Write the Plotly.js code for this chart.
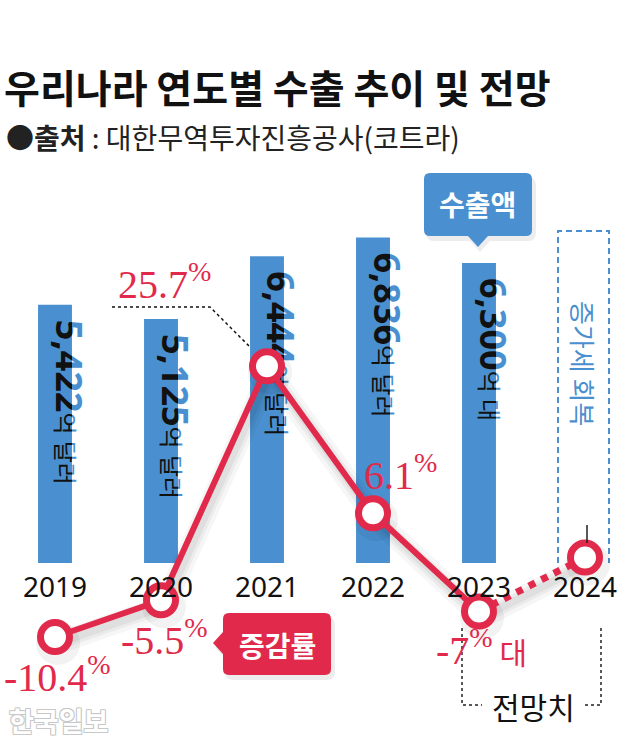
<!DOCTYPE html>
<html><head><meta charset="utf-8">
<script src="https://cdn.plot.ly/plotly-3.0.1.min.js"></script>
<style>html,body{margin:0;padding:0;background:#fff}#chart{width:640px;height:745px}</style>
</head><body><div id="chart"></div>
<script>
// ---------- data ----------
const years = ['2019', '2020', '2021', '2022', '2023', '2024'];
const exportYears = ['2019', '2020', '2021', '2022', '2023'];
const exportValues = [5422, 5125, 6444, 6836, 6300];          // 억 달러
const exportNumberLabels = ['5,422', '5,125', '6,444', '6,836', '6,300'];
const exportUnitLabels = ['억 달러', '억 달러', '억 달러', '억 달러', '억 대'];
const growthYears = ['2019', '2020', '2021', '2022', '2023', '2024'];
const growthRates = [-10.4, -5.5, 25.7, 6.1, -7, 0.2];          // %
const growthLabels = ['-10.4', '-5.5', '25.7', '6.1', '-7'];
const growthSuffix = ['', '', '', '', ' 대'];

// ---------- style / geometry ----------
const BLUE = '#4a90d0', RED = '#e12a4b';
const W = 640, H = 745, ML = 2, MR = 2, MT = 170, MB = 45;
const PW = W - ML - MR, PH = H - MT - MB;
const fx = p => (p - ML) / PW;
const fy = p => (H - MB - p) / PH;
const BW = 0.32;                 // bar width (category units)
const CAT_PX = PW / 6;           // px per category
const TEXT_SHIFT = 14;           // label shifted right of bar centre (px)
const barRange = [-2877, 8253];
const TEXT_DROP = 252;           // label starts lower than bar top
const textRange = [barRange[0] + TEXT_DROP, barRange[1] + TEXT_DROP];
const lineRange = [-18.8, 51.87];
const LINE_UNITS_PER_PX = (lineRange[1] - lineRange[0]) / PH;
const SHADOW_DX = 3, SHADOW_DY = 6;   // shadow offset in px
const shadowXRange = [-0.5 - SHADOW_DX / CAT_PX, 5.5 - SHADOW_DX / CAT_PX];
const shadowYRange = [lineRange[0] + SHADOW_DY * LINE_UNITS_PER_PX, lineRange[1] + SHADOW_DY * LINE_UNITS_PER_PX];
const SANS = 'Noto Sans, Noto Sans CJK KR, sans-serif';
const KR = 'Noto Sans CJK KR, Noto Sans, sans-serif';
const SERIF = 'Liberation Serif, DejaVu Serif, serif';

const barTexts = exportNumberLabels.map((n, i) =>
  '<b>' + n + '</b><span style="font-size:24px">' + exportUnitLabels[i] + '</span>');

const traces = [];
// visible bars
traces.push({
  type: 'bar', x: exportYears, y: exportValues, width: BW,
  marker: {color: BLUE}, xaxis: 'x', yaxis: 'y', hoverinfo: 'skip', showlegend: false
});
// blue (unclipped) labels
traces.push({
  type: 'bar', x: exportYears, y: exportValues, width: BW,
  offset: -BW / 2 + TEXT_SHIFT / CAT_PX,
  marker: {color: 'rgba(0,0,0,0)'}, text: barTexts, textposition: 'inside',
  insidetextanchor: 'end', textangle: 90, constraintext: 'none', cliponaxis: false,
  insidetextfont: {family: SANS, size: 36, color: BLUE},
  xaxis: 'x', yaxis: 'y2', hoverinfo: 'skip', showlegend: false
});
// black labels clipped to each bar
const layoutExtra = {};
exportYears.forEach((yr, i) => {
  const n = 3 + i;
  const barPx = BW * CAT_PX;
  traces.push({
    type: 'bar', x: [yr], y: [exportValues[i]], width: 1,
    offset: -0.5 + TEXT_SHIFT / barPx,
    marker: {color: 'rgba(0,0,0,0)'}, text: [barTexts[i]], textposition: 'inside',
    insidetextanchor: 'end', textangle: 90, constraintext: 'none', cliponaxis: true,
    insidetextfont: {family: SANS, size: 36, color: '#111'},
    xaxis: 'x' + n, yaxis: 'y' + n, hoverinfo: 'skip', showlegend: false
  });
  layoutExtra['xaxis' + n] = {
    domain: [(i + 0.5 - BW / 2) / 6, (i + 0.5 + BW / 2) / 6], type: 'category',
    range: [-0.5, 0.5], visible: false, anchor: 'y' + n, fixedrange: true
  };
  layoutExtra['yaxis' + n] = {
    domain: [0, 1], range: textRange, visible: false, anchor: 'x' + n, fixedrange: true
  };
});
// soft shadow of the growth line (same data, offset axes)
[[22, 0.035], [14, 0.045], [8, 0.05]].forEach(([w, a]) => {
  traces.push({
    type: 'scatter', mode: 'lines', x: growthYears, y: growthRates,
    line: {color: 'rgba(0,0,0,' + a + ')', width: w}, xaxis: 'x8', yaxis: 'y8',
    hoverinfo: 'skip', showlegend: false, cliponaxis: false
  });
});
traces.push({
  type: 'scatter', mode: 'markers', x: growthYears, y: growthRates,
  marker: {size: 44, color: 'rgba(0,0,0,0.05)'}, xaxis: 'x8', yaxis: 'y8',
  hoverinfo: 'skip', showlegend: false, cliponaxis: false
});
// growth line
traces.push({
  type: 'scatter', mode: 'lines', x: growthYears.slice(0, 5), y: growthRates.slice(0, 5),
  line: {color: RED, width: 6}, xaxis: 'x9', yaxis: 'y9', hoverinfo: 'skip', showlegend: false
});
traces.push({
  type: 'scatter', mode: 'lines', x: growthYears.slice(4), y: growthRates.slice(4),
  line: {color: RED, width: 7, dash: 'dot'}, xaxis: 'x9', yaxis: 'y9', hoverinfo: 'skip', showlegend: false
});
traces.push({
  type: 'scatter', mode: 'markers', x: growthYears, y: growthRates,
  marker: {size: 29, color: '#fff', line: {color: RED, width: 7}},
  xaxis: 'x9', yaxis: 'y9', hoverinfo: 'skip', showlegend: false, cliponaxis: false
});

// ---------- annotations ----------
const labelShift = [[2, -37], [3, -37], [-103, 85], [27, 41], [2, -36]];
const annotations = growthLabels.map((t, i) => ({
  x: i, y: growthRates[i], xref: 'x9', yref: 'y9', showarrow: false,
  xshift: labelShift[i][0], yshift: labelShift[i][1],
  text: t + '<sup>%</sup>' + (growthSuffix[i] ? '<span style="font-family:Noto Sans CJK KR;font-size:30px">' + growthSuffix[i] + '</span>' : ''),
  font: {family: SERIF, size: 40, color: RED}, xanchor: 'center', yanchor: 'middle'
}));
function note(px, py, text, font, extra) {
  return Object.assign({xref: 'paper', yref: 'paper', x: fx(px), y: fy(py), showarrow: false,
    xanchor: 'center', yanchor: 'middle', text: text, font: font}, extra || {});
}
annotations.push(note(4, 137, '<b>●출처</b> : 대한무역투자진흥공사(코트라)',
  {family: KR, size: 28, color: '#222'}, {xanchor: 'left'}));
annotations.push(note(478, 204, '<b>수출액</b>', {family: KR, size: 28, color: '#fff'}));
annotations.push(note(277, 645, '<b>증감률</b>', {family: KR, size: 28, color: '#fff'}));
annotations.push(note(584, 363, '증가세 회복', {family: KR, size: 26, color: BLUE}, {textangle: 90}));
annotations.push(note(533, 706, '전망치', {family: KR, size: 30, color: '#111'}));
annotations.push(note(59, 720, '<b>한국일보</b>', {family: KR, size: 27, color: '#fff',
  shadow: '1px 1px 0 #c8c8c8, -1px -1px 0 #c8c8c8, 1px -1px 0 #c8c8c8, -1px 1px 0 #c8c8c8'}));

// ---------- shapes ----------
const P = (x, y) => fx(x).toFixed(5) + ',' + fy(y).toFixed(5);
function calloutDown(x0, y0, x1, y1, r, tx, tw, th) {
  return 'M' + P(x0 + r, y0) + ' L' + P(x1 - r, y0) + ' Q' + P(x1, y0) + ' ' + P(x1, y0 + r) +
    ' L' + P(x1, y1 - r) + ' Q' + P(x1, y1) + ' ' + P(x1 - r, y1) +
    ' L' + P(tx + tw, y1) + ' L' + P(tx, y1 + th) + ' L' + P(tx - tw, y1) +
    ' L' + P(x0 + r, y1) + ' Q' + P(x0, y1) + ' ' + P(x0, y1 - r) +
    ' L' + P(x0, y0 + r) + ' Q' + P(x0, y0) + ' ' + P(x0 + r, y0) + ' Z';
}
function calloutLeft(x0, y0, x1, y1, r, ty, tw, th) {
  return 'M' + P(x0 + r, y0) + ' L' + P(x1 - r, y0) + ' Q' + P(x1, y0) + ' ' + P(x1, y0 + r) +
    ' L' + P(x1, y1 - r) + ' Q' + P(x1, y1) + ' ' + P(x1 - r, y1) +
    ' L' + P(x0 + r, y1) + ' Q' + P(x0, y1) + ' ' + P(x0, y1 - r) +
    ' L' + P(x0, ty + tw) + ' L' + P(x0 - th, ty) + ' L' + P(x0, ty - tw) +
    ' L' + P(x0, y0 + r) + ' Q' + P(x0, y0) + ' ' + P(x0 + r, y0) + ' Z';
}
const shapes = [
  {type: 'path', xref: 'paper', yref: 'paper', layer: 'below',
   path: 'M' + P(558, 563) + ' L' + P(558, 231) + ' L' + P(609, 231) + ' L' + P(609, 563),
   line: {color: BLUE, width: 2, dash: '6px,4px'}},
  // callout shadows
  {type: 'path', xref: 'paper', yref: 'paper', path: calloutDown(426, 177, 536, 241, 8, 480, 10, 11),
   fillcolor: 'rgba(0,0,0,0.07)', line: {width: 0}},
  {type: 'path', xref: 'paper', yref: 'paper', path: calloutLeft(225, 617, 335, 680, 8, 647, 11, 10),
   fillcolor: 'rgba(0,0,0,0.07)', line: {width: 0}},
  {type: 'path', xref: 'paper', yref: 'paper', path: calloutDown(424, 173, 532, 236, 6, 478, 10, 11),
   fillcolor: BLUE, line: {width: 0}},
  {type: 'path', xref: 'paper', yref: 'paper', path: calloutLeft(223, 613, 331, 675, 6, 643, 11, 10),
   fillcolor: RED, line: {width: 0}},
  {type: 'path', xref: 'paper', yref: 'paper', path: 'M' + P(112, 307) + ' L' + P(210, 307) + ' L' + P(250, 347),
   line: {color: '#111', width: 1.5, dash: 'dot'}},
  {type: 'path', xref: 'paper', yref: 'paper', path: 'M' + P(462, 628) + ' L' + P(462, 705) + ' L' + P(482, 705),
   line: {color: '#222', width: 1.5, dash: 'dot'}},
  {type: 'path', xref: 'paper', yref: 'paper', path: 'M' + P(601, 628) + ' L' + P(601, 705) + ' L' + P(585, 705),
   line: {color: '#222', width: 1.5, dash: 'dot'}},
  {type: 'line', xref: 'paper', yref: 'paper', x0: fx(587), x1: fx(587), y0: fy(525), y1: fy(543),
   line: {color: '#222', width: 1.5}}
];

const layout = Object.assign({
  width: W, height: H,
  margin: {l: ML, r: MR, t: MT, b: MB, pad: 0},
  paper_bgcolor: '#fff', plot_bgcolor: 'rgba(0,0,0,0)',
  showlegend: false, barmode: 'overlay',
  title: {text: '<b>우리나라 연도별 수출 추이 및 전망</b>', xref: 'container', yref: 'container',
          x: 4 / W, xanchor: 'left', y: 1 - 89 / H, yanchor: 'middle',
          font: {family: KR, size: 39, color: '#111'}},
  xaxis: {domain: [0, 1], type: 'category', range: [-0.5, 5.5], visible: false, anchor: 'y', fixedrange: true},
  yaxis: {domain: [0, 1], range: barRange, visible: false, anchor: 'x', fixedrange: true},
  yaxis2: {overlaying: 'y', range: textRange, visible: false, anchor: 'x', fixedrange: true},
  xaxis8: {domain: [0, 1], type: 'category', range: shadowXRange, visible: false, anchor: 'y8', fixedrange: true},
  yaxis8: {domain: [0, 1], range: shadowYRange, visible: false, anchor: 'x8', fixedrange: true},
  xaxis9: {domain: [0, 1], type: 'category', range: [-0.5, 5.5], anchor: 'free', position: fy(568),
           showgrid: false, zeroline: false, showline: false, ticks: '',
           tickfont: {family: SANS, size: 28, color: '#111'}, fixedrange: true},
  yaxis9: {domain: [0, 1], range: lineRange, visible: false, anchor: 'x9', fixedrange: true},
  annotations: annotations,
  shapes: shapes
}, layoutExtra);

Plotly.newPlot('chart', traces, layout, {displayModeBar: false, staticPlot: true});
</script>
</body></html>
